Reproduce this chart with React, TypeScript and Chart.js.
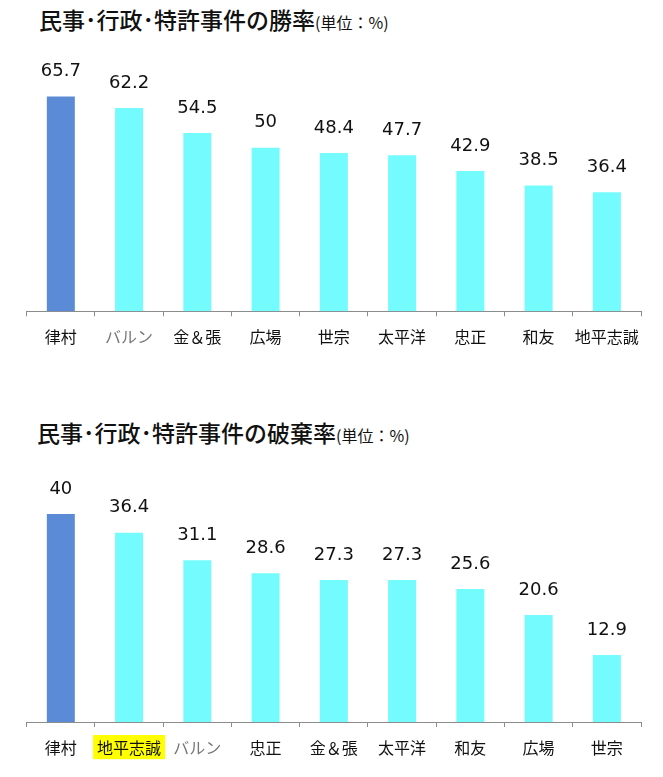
import { useEffect, useRef } from 'react';
import { Chart, registerables } from 'chart.js';

Chart.register(...registerables);

// 勝率 (win rate), %
const winLabels = ['律村', 'バルン', '金＆張', '広場', '世宗', '太平洋', '忠正', '和友', '地平志誠'];
const winValues = [65.7, 62.2, 54.5, 50, 48.4, 47.7, 42.9, 38.5, 36.4];

// 破棄率 (reversal rate), %
const reversalLabels = ['律村', '地平志誠', 'バルン', '忠正', '金＆張', '太平洋', '和友', '広場', '世宗'];
const reversalValues = [40, 36.4, 31.1, 28.6, 27.3, 27.3, 25.6, 20.6, 12.9];

const BLUE = '#5b8bd6';
const CYAN = '#74fbfd';
const AXIS_GRAY = '#8c8c8c';

const valueLabels = {
  id: 'valueLabels',
  afterDatasetsDraw(chart) {
    const { ctx } = chart;
    const meta = chart.getDatasetMeta(0);
    const values = chart.data.datasets[0].data;
    ctx.save();
    ctx.font = '18px "DejaVu Sans"';
    ctx.fillStyle = '#111';
    ctx.textAlign = 'center';
    ctx.textBaseline = 'middle';
    meta.data.forEach((bar, i) => {
      ctx.fillText(String(values[i]), bar.x, bar.y - 25);
    });
    ctx.restore();
  },
};

type BarProps = {
  labels: string[];
  values: number[];
  max: number;
  top: number;
  height: number;
  padTop: number;
  padBottom: number;
  highlight?: number;
};

const BarChart = ({ labels, values, max, top, height, padTop, padBottom, highlight = -1 }: BarProps) => {
  const canvasRef = useRef<HTMLCanvasElement>(null);
  const chartRef = useRef<Chart | null>(null);

  useEffect(() => {
    if (!canvasRef.current) return;
    if (chartRef.current) chartRef.current.destroy();

    const grayIndex = labels.indexOf('バルン');

    chartRef.current = new Chart(canvasRef.current, {
      type: 'bar',
      data: {
        labels,
        datasets: [{
          data: values,
          backgroundColor: values.map((_, i) => (i === 0 ? BLUE : CYAN)),
          barPercentage: 0.41,
          categoryPercentage: 1,
        }],
      },
      options: {
        responsive: false,
        animation: false,
        layout: { padding: { top: padTop, bottom: padBottom, left: 26.7, right: 22 } },
        plugins: { legend: { display: false }, tooltip: { enabled: false } },
        scales: {
          x: {
            grid: {
              display: true,
              drawOnChartArea: false,
              drawTicks: true,
              tickLength: 5,
              color: AXIS_GRAY,
              offset: true,
            },
            border: { color: AXIS_GRAY, width: 1 },
            ticks: {
              padding: 11,
              maxRotation: 0,
              autoSkip: false,
              font: { family: '"Noto Sans CJK JP"', size: 16 },
              color: (c) => (c.index === grayIndex ? '#777' : '#111'),
              showLabelBackdrop: (c) => c.index === highlight,
              backdropColor: '#ffff00',
              backdropPadding: { top: 3, bottom: 2, left: 4, right: 4 },
            },
          },
          y: { display: false, min: 0, max },
        },
      },
      plugins: [valueLabels],
    });

    return () => {
      if (chartRef.current) {
        chartRef.current.destroy();
        chartRef.current = null;
      }
    };
  }, []);

  return (
    <canvas
      ref={canvasRef}
      width={663}
      height={height}
      style={{ position: 'absolute', left: 0, top, width: 663, height }}
    />
  );
};

const titleStyle = {
  position: 'absolute' as const,
  fontFamily: '"Noto Sans CJK JP"',
  fontSize: 23,
  fontWeight: 500,
  lineHeight: '23px',
  color: '#111',
  whiteSpace: 'nowrap' as const,
};

const unitStyle = { fontSize: 16, fontWeight: 400 };

const App = () => (
  <div style={{ position: 'absolute', left: 0, top: 0, width: 663, height: 777, background: '#fff' }}>
    <div style={{ ...titleStyle, left: 39, top: 8 }}>
      民事･行政･特許事件の勝率<span style={unitStyle}>(単位：%)</span>
    </div>
    <BarChart labels={winLabels} values={winValues} max={80} top={30} height={330} padTop={19.7} padBottom={2.5} />
    <div style={{ ...titleStyle, left: 37, top: 421 }}>
      民事･行政･特許事件の破棄率<span style={unitStyle}>(単位：%)</span>
    </div>
    <BarChart
      labels={reversalLabels}
      values={reversalValues}
      max={50}
      top={440}
      height={337}
      padTop={22}
      padBottom={8.8}
      highlight={1}
    />
  </div>
);

export default App;
